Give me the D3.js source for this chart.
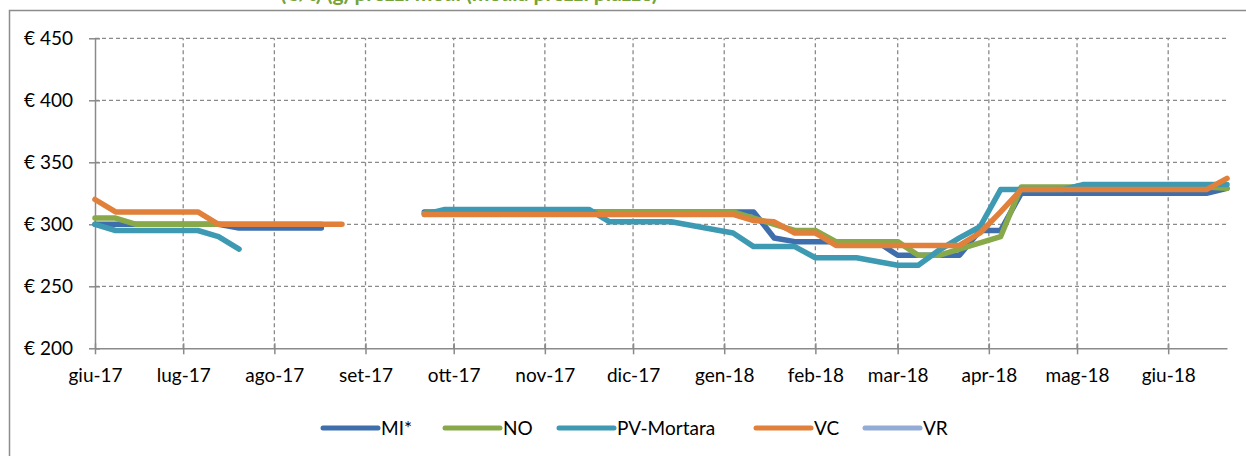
<!DOCTYPE html>
<html>
<head>
<meta charset="utf-8">
<script src="https://cdn.jsdelivr.net/npm/d3@7"></script>
<style>
    body { margin: 0; background: #fff; }
    svg { display: block; font-family: Lato, "Open Sans", sans-serif; }
</style>
</head>
<body>
<svg id="chart" width="1246" height="456"></svg>
<script>
// weekly quotes, jun-17 .. jun-18
const weeks = [
    "2017-06-01", "2017-06-08", "2017-06-15", "2017-06-22", "2017-06-29", "2017-07-06", "2017-07-13",
    "2017-07-20", "2017-07-27", "2017-08-03", "2017-08-10", "2017-08-17", "2017-08-24", "2017-08-31",
    "2017-09-07", "2017-09-14", "2017-09-21", "2017-09-28", "2017-10-05", "2017-10-12", "2017-10-19",
    "2017-10-26", "2017-11-02", "2017-11-09", "2017-11-16", "2017-11-23", "2017-11-30", "2017-12-07",
    "2017-12-14", "2017-12-21", "2017-12-28", "2018-01-04", "2018-01-11", "2018-01-18", "2018-01-25",
    "2018-02-01", "2018-02-08", "2018-02-15", "2018-02-22", "2018-03-01", "2018-03-08", "2018-03-15",
    "2018-03-22", "2018-03-29", "2018-04-05", "2018-04-12", "2018-04-19", "2018-04-26", "2018-05-03",
    "2018-05-10", "2018-05-17", "2018-05-24", "2018-05-31", "2018-06-07", "2018-06-14", "2018-06-21"
];

const mi = [
    300, 300, 300, 300, 300, 300, 300, 297, 297, 297, 297, 297, null, null,
    null, null, 310, 310, 310, 310, 310, 310, 310, 310, 310, 310, 310, 310,
    310, 310, 310, 310, 310, 289, 286, 286, 286, 286, 286, 275, 275, 275,
    275, 295, 295, 325, 325, 325, 325, 325, 325, 325, 325, 325, 325, 329
];
const no = [
    305, 305, 300, 300, 300, 300, 300, 300, 300, 300, 300, 300, null, null,
    null, null, 309, 310, 310, 310, 310, 310, 310, 310, 310, 310, 310, 310,
    310, 310, 310, 310, 305, 300, 295, 295, 286, 286, 286, 286, 275, 275,
    280, 285, 290, 330, 330, 330, 330, 330, 330, 330, 330, 330, 330, 329
];
const pv = [
    300, 295, 295, 295, 295, 295, 290, 280, null, null, null, null, null, null,
    null, null, 308, 312, 312, 312, 312, 312, 312, 312, 312, 302, 302, 302,
    302, 299, 296, 293, 282, 282, 282, 273, 273, 273, 270, 267, 267, 279,
    289, 298, 328, 328, 328, 328, 332, 332, 332, 332, 332, 332, 332, 332
];
const vc = [
    320, 310, 310, 310, 310, 310, 300, 300, 300, 300, 300, 300, 300, null,
    null, null, 308, 308, 308, 308, 308, 308, 308, 308, 308, 308, 308, 308,
    308, 308, 308, 308, 303, 302, 293, 293, 283, 283, 283, 283, 283, 283,
    283, 293, 310, 328, 328, 328, 328, 328, 328, 328, 328, 328, 328, 337
];
const vr = weeks.map(() => null); // no VR quotes in the period

const seriesNames = ["MI*", "NO", "PV-Mortara", "VC", "VR"];
const seriesValues = [mi, no, pv, vc, vr];
const seriesColors = ["#3F6EAC", "#88A94A", "#3D9AB2", "#E0803A", "#93ACD5"];

const yTicks = [200, 250, 300, 350, 400, 450];
const monthTicks = [
    "2017-06-01", "2017-07-01", "2017-08-01", "2017-09-01", "2017-10-01", "2017-11-01", "2017-12-01",
    "2018-01-01", "2018-02-01", "2018-03-01", "2018-04-01", "2018-05-01", "2018-06-01"
];
const monthLabels = [
    "giu-17", "lug-17", "ago-17", "set-17", "ott-17", "nov-17", "dic-17",
    "gen-18", "feb-18", "mar-18", "apr-18", "mag-18", "giu-18"
];

drawChart();

function drawChart() {
    const svg = d3.select("#chart");
    const parse = d3.timeParse("%Y-%m-%d");
    const gridColor = "#8a8a8a";

    // outer chart frame (continues past the photo edge)
    svg.append("rect")
        .attr("x", 9.5)
        .attr("y", 10.5)
        .attr("width", 1250)
        .attr("height", 470)
        .attr("fill", "none")
        .attr("stroke", "#8c8c8c")
        .attr("stroke-width", 1.5);

    // title, only its lower edge shows in the crop
    svg.append("text")
        .attr("x", 469)
        .attr("y", 1)
        .attr("text-anchor", "middle")
        .attr("fill", "#76A33A")
        .attr("font-weight", "bold")
        .attr("font-size", 21)
        .text("(€/t) (g) prezzi medi (media prezzi piazze)");

    const x = d3.scaleTime()
        .domain([parse(weeks[0]), parse(weeks[weeks.length - 1])])
        .range([95, 1227]);

    const y = d3.scaleLinear()
        .domain([200, 450])
        .range([348.3, 38.3]);

    const tickDates = monthTicks.map(parse);

    // gridlines
    svg.append("g")
        .selectAll("line")
        .data(yTicks.slice(1))
        .join("line")
        .attr("x1", 95)
        .attr("x2", 1227)
        .attr("y1", d => y(d))
        .attr("y2", d => y(d))
        .attr("stroke", gridColor)
        .attr("stroke-width", 1.3)
        .attr("stroke-dasharray", "4,3");

    svg.append("g")
        .selectAll("line")
        .data(tickDates.slice(1))
        .join("line")
        .attr("x1", d => x(d))
        .attr("x2", d => x(d))
        .attr("y1", y(200))
        .attr("y2", y(450))
        .attr("stroke", gridColor)
        .attr("stroke-width", 1.3)
        .attr("stroke-dasharray", "4,3");

    // y axis
    const yAxis = svg.append("g")
        .attr("transform", "translate(95,0)")
        .call(d3.axisLeft(y)
            .tickValues(yTicks)
            .tickSizeInner(6)
            .tickSizeOuter(0)
            .tickPadding(16)
            .tickFormat(d => "€ " + d));
    yAxis.select(".domain").attr("stroke", gridColor).attr("stroke-width", 1.5);
    yAxis.selectAll(".tick line")
        .attr("x1", -6)
        .attr("x2", 5)
        .attr("stroke", gridColor)
        .attr("stroke-width", 1.5);
    yAxis.selectAll("text")
        .attr("font-size", 19)
        .attr("font-family", "Lato, sans-serif")
        .attr("fill", "#000");

    // x axis
    const xAxis = svg.append("g")
        .attr("transform", `translate(0,${y(200)})`)
        .call(d3.axisBottom(x)
            .tickValues(tickDates)
            .tickSizeInner(6)
            .tickSizeOuter(0)
            .tickPadding(14)
            .tickFormat((d, i) => monthLabels[i]));
    xAxis.select(".domain").attr("stroke", gridColor).attr("stroke-width", 1.5);
    xAxis.selectAll(".tick line")
        .attr("y1", -5)
        .attr("y2", 6)
        .attr("stroke", gridColor)
        .attr("stroke-width", 1.5);
    xAxis.selectAll("text")
        .attr("font-size", 19)
        .attr("font-family", "Lato, sans-serif")
        .attr("fill", "#000");

    // series lines
    const line = d3.line()
        .defined(d => d.value !== null)
        .x(d => x(d.date))
        .y(d => y(d.value));

    seriesValues.forEach((values, s) => {
        const data = weeks.map((w, i) => ({ date: parse(w), value: values[i] }));
        svg.append("path")
            .datum(data)
            .attr("fill", "none")
            .attr("stroke", seriesColors[s])
            .attr("stroke-width", 5.5)
            .attr("stroke-linejoin", "round")
            .attr("stroke-linecap", "round")
            .attr("d", line);
    });

    // legend
    const legendX = [323, 445, 559, 756, 865];
    const legend = svg.append("g")
        .selectAll("g")
        .data(seriesNames)
        .join("g")
        .attr("transform", (d, i) => `translate(${legendX[i]},428)`);

    legend.append("line")
        .attr("x1", 0)
        .attr("x2", 55)
        .attr("stroke", (d, i) => seriesColors[i])
        .attr("stroke-width", 5)
        .attr("stroke-linecap", "round");

    legend.append("text")
        .attr("x", 58)
        .attr("y", 7)
        .attr("font-size", 19)
        .attr("fill", "#000")
        .text(d => d);
}
</script>
</body>
</html>
